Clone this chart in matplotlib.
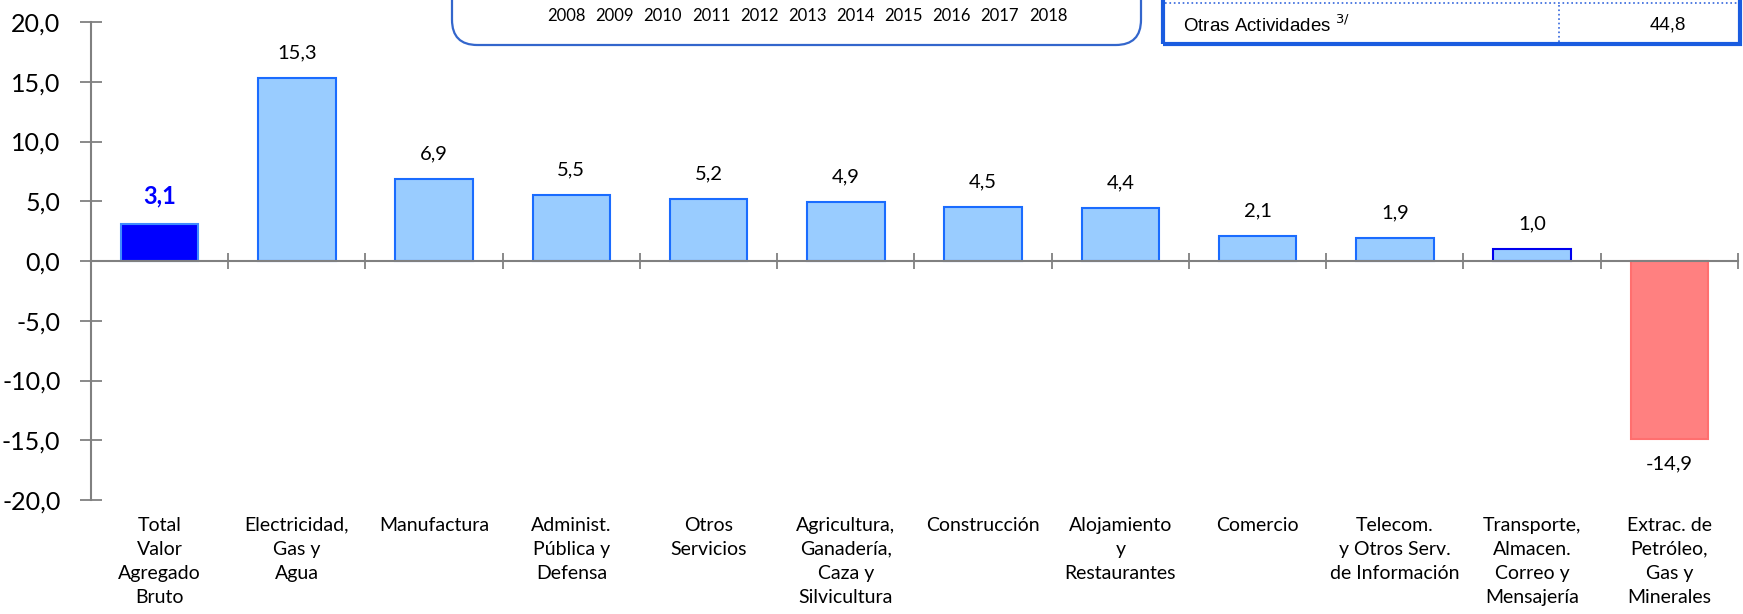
import matplotlib
matplotlib.use("Agg")
import matplotlib.pyplot as plt
from matplotlib.patches import FancyBboxPatch, Rectangle
from matplotlib.lines import Line2D

plt.rcParams['font.family'] = ['Lato', 'DejaVu Sans']

# --- datos
categorias = ["Total\nValor\nAgregado\nBruto", "Electricidad,\nGas y\nAgua", "Manufactura",
              "Administ.\nPública y\nDefensa", "Otros\nServicios",
              "Agricultura,\nGanadería,\nCaza y\nSilvicultura", "Construcción",
              "Alojamiento\ny\nRestaurantes", "Comercio",
              "Telecom.\ny Otros Serv.\nde Información",
              "Transporte,\nAlmacen.\nCorreo y\nMensajería",
              "Extrac. de\nPetróleo,\nGas y\nMinerales"]
valores = [3.1, 15.3, 6.9, 5.5, 5.2, 4.9, 4.5, 4.4, 2.1, 1.9, 1.0, -14.9]
anios = [2008, 2009, 2010, 2011, 2012, 2013, 2014, 2015, 2016, 2017, 2018]
tabla_etiqueta = "Otras Actividades $^{3/}$"
tabla_valor = "44,8"

W, H = 1743, 614
fig = plt.figure(figsize=(W / 100, H / 100), dpi=100)
ax = fig.add_axes([91 / W, 114 / H, 1647 / W, 478 / H])

gris = "#808080"
fills = ["#0000FF"] + ["#99CCFF"] * 10 + ["#FF8080"]
edges = ["#3F8CFF"] + ["#1A6CFF"] * 9 + ["#0000EE", "#FF6F6F"]

x = list(range(len(valores)))
ax.bar(x, valores, width=0.565, color=fills, edgecolor=edges, linewidth=1.5, zorder=2)

ax.set_xlim(-0.5, len(valores) - 0.5)
ax.set_ylim(-20, 20)
ax.set_yticks(range(-20, 25, 5))
ax.set_yticklabels([f"{v:.1f}".replace(".", ",") for v in range(-20, 25, 5)], fontsize=18)

for s in ["top", "right"]:
    ax.spines[s].set_visible(False)
ax.spines["left"].set_color(gris)
ax.spines["left"].set_linewidth(1.5)
ax.spines["bottom"].set_position(("data", 0))
ax.spines["bottom"].set_color(gris)
ax.spines["bottom"].set_linewidth(1.5)
ax.tick_params(axis="y", direction="inout", length=16, width=1.3, color=gris, pad=14)
ax.set_xticks([i + 0.5 for i in x])
ax.set_xticklabels([])
ax.tick_params(axis="x", direction="inout", length=12, width=1.3, color=gris)

# etiquetas de categoria
for i, cat in enumerate(categorias):
    ax.annotate(cat, xy=(i, 0), xycoords=("data", "axes fraction"), xytext=(0, -12),
                textcoords="offset points", ha="center", va="top", fontsize=14,
                linespacing=1.5)

# etiquetas de valor
for i, v in enumerate(valores):
    txt = f"{v:.1f}".replace(".", ",")
    if i == 0:
        ax.annotate(txt, xy=(i, v), xytext=(0, 12), textcoords="offset points",
                    ha="center", va="bottom", fontsize=17, fontweight="bold", color="#0000FF")
    elif v >= 0:
        ax.annotate(txt, xy=(i, v), xytext=(0, 12), textcoords="offset points",
                    ha="center", va="bottom", fontsize=14.5)
    else:
        ax.annotate(txt, xy=(i, v), xytext=(0, -12), textcoords="offset points",
                    ha="center", va="top", fontsize=14.5)

# recuadro superior (recortado)
caja = FancyBboxPatch((452 / W, 1 - 45 / H), (1141 - 452) / W, 0.2,
                      boxstyle="round,pad=0,rounding_size=0.0145", transform=fig.transFigure,
                      fill=False, edgecolor="#3366CC", linewidth=1.6, mutation_aspect=W / H)
fig.patches.append(caja)
x0, x1 = 566.5 / W, 1048 / W
for k, a in enumerate(anios):
    fig.text(x0 + (x1 - x0) * k / (len(anios) - 1), 1 - 16 / H, str(a), ha="center",
             va="center", fontsize=12)

# tabla superior derecha (recortada)
tabla = Rectangle((1163 / W, 1 - 44 / H), (1740 - 1163) / W, 0.2, transform=fig.transFigure,
                  fill=False, edgecolor="#1A5CE0", linewidth=3)
fig.patches.append(tabla)
fig.lines.append(Line2D([1165 / W, 1738 / W], [1 - 3 / H, 1 - 3 / H], transform=fig.transFigure,
                        color="#3366DD", linestyle=":", linewidth=1.2))
fig.lines.append(Line2D([1559 / W, 1559 / W], [1 - 42 / H, 1 - 3 / H], transform=fig.transFigure,
                        color="#3366DD", linestyle=":", linewidth=1.2))
fig.text(1183 / W, 1 - 25 / H, tabla_etiqueta, ha="left", va="center", fontsize=13.5,
         family="Liberation Sans")
fig.text(1668 / W, 1 - 25 / H, tabla_valor, ha="center", va="center", fontsize=13.5,
         family="Liberation Sans")

fig.savefig("out.png", dpi=100)
